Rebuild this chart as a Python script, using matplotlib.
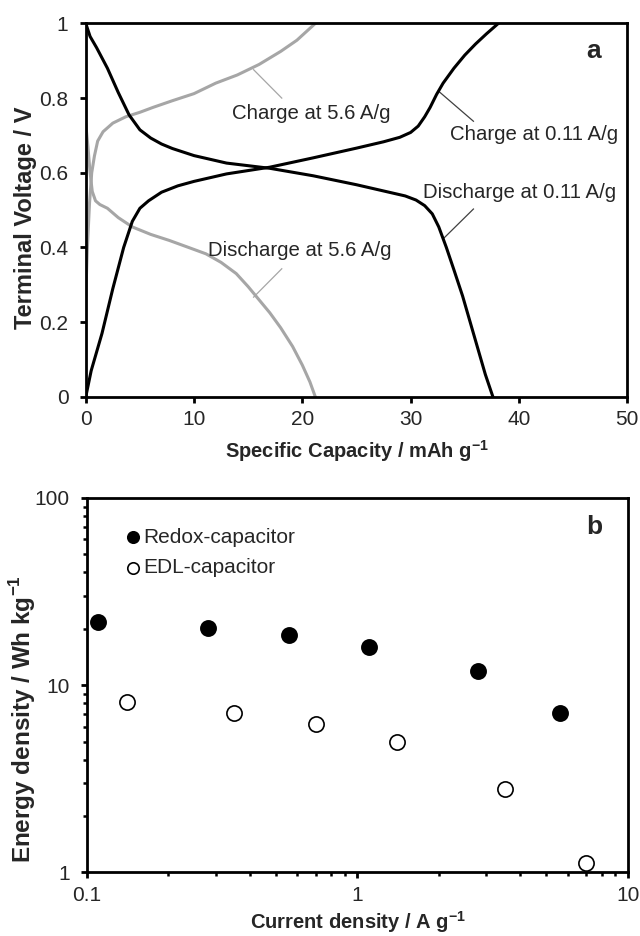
import matplotlib
matplotlib.use("Agg")
import matplotlib.pyplot as plt
from matplotlib.ticker import LogLocator, NullFormatter, FixedLocator, FixedFormatter

plt.rcParams['font.family'] = ['Liberation Sans', 'DejaVu Sans']
plt.rcParams['mathtext.fontset'] = 'custom'
plt.rcParams['mathtext.rm'] = 'Liberation Sans'
plt.rcParams['mathtext.bf'] = 'Liberation Sans:bold'

# ── Panel a : courbes de charge / décharge ────────────────────────────────────
dis_slow_q = [0, 0.4, 1, 2, 3, 4, 5, 6, 7, 8, 10, 13, 17, 21, 25, 28, 29.5,
              30.5, 31.3, 32, 32.6, 33.3, 34, 34.8, 35.5, 36.2, 36.9, 37.6]
dis_slow_v = [1.0, 0.965, 0.935, 0.88, 0.815, 0.755, 0.715, 0.693, 0.677,
              0.665, 0.646, 0.626, 0.612, 0.592, 0.568, 0.548, 0.538, 0.527,
              0.512, 0.49, 0.455, 0.4, 0.34, 0.27, 0.2, 0.13, 0.06, 0.0]

chg_slow_q = [0, 0.5, 1.5, 2.5, 3.5, 4.3, 5, 5.8, 7, 8.5, 10, 13, 17, 21, 25,
              27.5, 29, 30, 30.7, 31.3, 31.8, 32.4, 33, 34, 35, 36, 37, 38.1]
chg_slow_v = [0, 0.07, 0.17, 0.29, 0.4, 0.47, 0.505, 0.525, 0.548, 0.565,
              0.577, 0.597, 0.615, 0.64, 0.666, 0.683, 0.695, 0.708, 0.725,
              0.75, 0.775, 0.81, 0.84, 0.88, 0.915, 0.945, 0.972, 1.0]

chg_fast_q = [0, 0.15, 0.35, 0.55, 0.8, 1.1, 1.6, 2.5, 3.7, 5, 6.2, 8, 10, 12,
              14, 16, 18, 19.5, 21.2]
chg_fast_v = [0.27, 0.4, 0.52, 0.6, 0.645, 0.685, 0.71, 0.733, 0.75, 0.762,
              0.775, 0.793, 0.812, 0.84, 0.862, 0.89, 0.925, 0.955, 1.0]

dis_fast_q = [0, 0.2, 0.4, 0.6, 0.9, 1.3, 2, 3, 4.3, 6, 7.7, 9.5, 11.1, 12.5,
              13.9, 15, 16, 17, 18, 19.1, 20, 20.7, 21.2]
dis_fast_v = [0.73, 0.67, 0.6, 0.55, 0.525, 0.515, 0.505, 0.48, 0.455, 0.435,
              0.419, 0.4, 0.383, 0.36, 0.33, 0.295, 0.26, 0.225, 0.185, 0.135,
              0.085, 0.04, 0.0]

# ── Panel b : Ragone ──────────────────────────────────────────────────────────
redox_i = [0.11, 0.28, 0.56, 1.1, 2.8, 5.6]
redox_e = [21.8, 20.3, 18.5, 16.0, 11.9, 7.1]
edl_i = [0.14, 0.35, 0.7, 1.4, 3.5, 7.0]
edl_e = [8.15, 7.06, 6.2, 4.99, 2.78, 1.12]

GRAY = '#a6a6a6'
TXT = '#262626'

fig = plt.figure(figsize=(6.4, 9.36), dpi=100)
ax_a = fig.add_axes([0.134, 0.576, 0.846, 0.399])
ax_b = fig.add_axes([0.136, 0.068, 0.845, 0.400])

# ---- a ----
ax_a.plot(chg_fast_q, chg_fast_v, color=GRAY, lw=2.2, zorder=2)
ax_a.plot(dis_fast_q, dis_fast_v, color=GRAY, lw=2.2, zorder=2)
ax_a.plot(dis_slow_q, dis_slow_v, color='black', lw=2.2, zorder=3)
ax_a.plot(chg_slow_q, chg_slow_v, color='black', lw=2.2, zorder=3)

ax_a.set_xlim(0, 50)
ax_a.set_ylim(0, 1)
ax_a.set_xticks([0, 10, 20, 30, 40, 50])
ax_a.set_yticks([0, 0.2, 0.4, 0.6, 0.8, 1.0])
ax_a.set_yticklabels(['0', '0.2', '0.4', '0.6', '0.8', '1'])

# étiquettes + traits de rappel
ann = [
    ("Charge at 5.6 A/g", 20.8, 0.76, (15.5, 18.1), (0.876, 0.80), GRAY),
    ("Charge at 0.11 A/g", 41.4, 0.703, (32.6, 35.8), (0.818, 0.738), '#404040'),
    ("Discharge at 0.11 A/g", 40.1, 0.547, (33.0, 35.8), (0.423, 0.503), '#404040'),
    ("Discharge at 5.6 A/g", 19.8, 0.391, (15.5, 18.1), (0.267, 0.343), GRAY),
]
for label, tx, ty, lx, ly, lc in ann:
    ax_a.plot(lx, ly, color=lc, lw=0.9, zorder=1)
    ax_a.text(tx, ty, label, ha='center', va='center', fontsize=14.7, color=TXT)

ax_a.text(46.9, 0.925, 'a', fontsize=19, fontweight='bold', ha='center',
          va='center', color=TXT)

ax_a.set_xlabel(r'Specific Capacity / mAh g$^{\mathbf{-1}}$', fontsize=14.5,
                fontweight='bold', color=TXT)
ax_a.set_ylabel('Terminal Voltage / V', fontsize=17, fontweight='bold', color=TXT)
ax_a.xaxis.set_label_coords(0.5, -0.11)
ax_a.yaxis.set_label_coords(-0.09, 0.48)

# ---- b ----
ax_b.set_xscale('log')
ax_b.set_yscale('log')
ax_b.scatter(redox_i, redox_e, s=120, facecolor='black', edgecolor='black',
             lw=1.2, zorder=3, label='Redox-capacitor')
ax_b.scatter(edl_i, edl_e, s=120, facecolor='white', edgecolor='black',
             lw=1.2, zorder=3, label='EDL-capacitor')
ax_b.set_xlim(0.1, 10)
ax_b.set_ylim(1, 100)
ax_b.xaxis.set_major_locator(FixedLocator([0.1, 1, 10]))
ax_b.xaxis.set_major_formatter(FixedFormatter(['0.1', '1', '10']))
ax_b.yaxis.set_major_locator(FixedLocator([1, 10, 100]))
ax_b.yaxis.set_major_formatter(FixedFormatter(['1', '10', '100']))
for axis in (ax_b.xaxis, ax_b.yaxis):
    axis.set_minor_locator(LogLocator(base=10, subs=range(2, 10)))
    axis.set_minor_formatter(NullFormatter())

leg = ax_b.legend(loc='upper left', bbox_to_anchor=(0.012, 0.97), frameon=False,
                  fontsize=15, handletextpad=-0.5, labelspacing=0.55,
                  markerscale=0.75)
for t in leg.get_texts():
    t.set_color(TXT)

ax_b.text(0.938, 0.922, 'b', transform=ax_b.transAxes, fontsize=19,
          fontweight='bold', ha='center', va='center', color=TXT)

ax_b.set_xlabel(r'Current density / A g$^{\mathbf{-1}}$', fontsize=14.5,
                fontweight='bold', color=TXT)
ax_b.set_ylabel(r'Energy density / Wh kg$^{\mathbf{-1}}$', fontsize=17.5,
                fontweight='bold', color=TXT)
ax_b.xaxis.set_label_coords(0.5, -0.098)
ax_b.yaxis.set_label_coords(-0.09, 0.41)

for ax in (ax_a, ax_b):
    for sp in ax.spines.values():
        sp.set_linewidth(2.0)
    ax.tick_params(which='major', direction='out', length=4.5, width=2,
                   labelsize=15, labelcolor=TXT)
    ax.tick_params(axis='x', which='major', pad=5)
    ax.tick_params(axis='y', which='major', pad=8)
    ax.tick_params(which='minor', direction='out', length=3, width=1.8)

fig.savefig('out.png', dpi=100)
